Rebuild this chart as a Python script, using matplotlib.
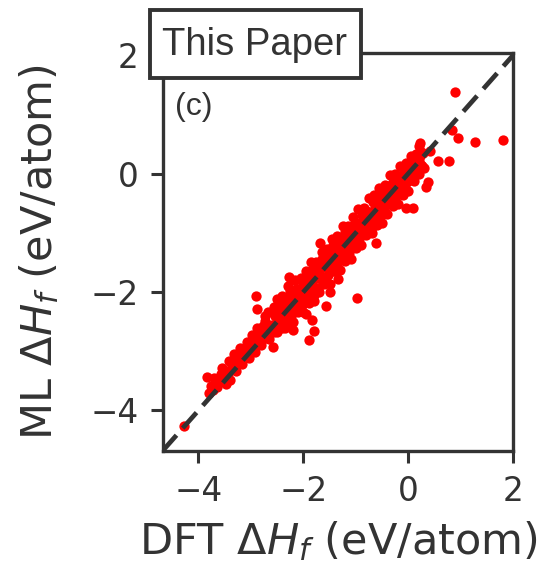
import matplotlib
matplotlib.use("Agg")
import matplotlib.pyplot as plt
from matplotlib.patches import Rectangle
import numpy as np

# DFT vs ML formation enthalpies (eV/atom)
dft_tail = [-4.27, -3.84, -3.80, -3.76, -3.72, -3.66, -3.61, -3.57, -3.52, -3.47,
            -3.42, -3.39, -3.36, -3.31, -3.27, -3.23, -3.19, -3.14, -3.10, -3.06,
            -3.02, -2.98, -2.95, -2.91, -2.89, -2.90, -2.86, -2.83, -2.79, -2.76,
            -2.73, -2.70, -2.67, -2.63,
            -3.70, -3.64, -3.55, -3.48, -3.44, -3.33, -3.28, -3.21, -3.16, -3.08,
            -3.04, -2.97, -2.93, -2.88, -2.81, -2.74, -2.68, -2.65]
ml_tail = [-4.26, -3.43, -3.70, -3.58, -3.66, -3.52, -3.48, -3.38, -3.47, -3.33,
           -3.17, -3.48, -3.26, -3.12, -3.21, -3.03, -3.10, -2.96, -3.04, -2.90,
           -2.98, -2.84, -2.93, -2.06, -2.28, -2.74, -2.81, -2.64, -2.72, -2.58,
           -2.49, -2.78, -2.55, -2.66,
           -3.45, -3.60, -3.28, -3.56, -3.36, -3.05, -3.34, -2.95, -3.22, -2.84,
           -3.12, -2.72, -3.02, -2.60, -2.90, -2.40, -2.33, -2.80]

dft_band_a = [-2.60, -2.56, -2.52, -2.48, -2.44, -2.40, -2.36, -2.32, -2.28, -2.24,
              -2.20, -2.16, -2.12, -2.08, -2.04, -2.00, -1.96, -1.92, -1.88, -1.84,
              -1.80, -1.76, -1.72, -1.68, -1.64, -1.60, -1.56, -1.52, -1.48, -1.44,
              -1.40, -1.36, -1.32, -1.28, -1.24, -1.20, -1.16, -1.12, -1.08, -1.04,
              -1.00, -0.96, -0.92, -0.88, -0.84, -0.80, -0.76, -0.72, -0.68, -0.64,
              -0.60, -0.56, -0.52, -0.48, -0.44, -0.40, -0.36, -0.32, -0.28, -0.24,
              -0.20, -0.16, -0.12, -0.08, -0.04, 0.00, 0.04, 0.08, 0.12, 0.16,
              0.20, 0.24, 0.28]
ml_band_a = [-2.55, -2.68, -2.34, -2.51, -2.35, -2.61, -2.22, -2.39, -2.06, -2.39,
             -2.19, -2.05, -2.30, -2.02, -2.13, -1.84, -1.98, -1.68, -2.01, -1.76,
             -2.05, -1.73, -1.59, -1.74, -1.45, -1.76, -1.49, -1.53, -1.36, -1.64,
             -1.36, -1.19, -1.42, -1.19, -1.28, -0.99, -1.30, -1.10, -0.93, -1.12,
             -0.90, -1.15, -0.86, -0.70, -0.89, -0.67, -0.88, -0.71, -0.48, -0.81,
             -0.52, -0.59, -0.38, -0.59, -0.39, -0.21, -0.51, -0.29, -0.16, -0.33,
             -0.13, -0.34, -0.02, -0.12, 0.11, -0.12, 0.08, 0.01, 0.21, 0.00,
             0.22, 0.14, 0.34]

dft_band_b = [-2.58, -2.54, -2.50, -2.46, -2.42, -2.38, -2.34, -2.30, -2.26, -2.22,
              -2.18, -2.14, -2.10, -2.06, -2.02, -1.98, -1.94, -1.90, -1.86, -1.82,
              -1.78, -1.74, -1.70, -1.66, -1.62, -1.58, -1.54, -1.50, -1.46, -1.42,
              -1.38, -1.34, -1.30, -1.26, -1.22, -1.18, -1.14, -1.10, -1.06, -1.02,
              -0.98, -0.94, -0.90, -0.86, -0.82, -0.78, -0.74, -0.70, -0.66, -0.62,
              -0.58, -0.54, -0.50, -0.46, -0.42, -0.38, -0.34, -0.30, -0.26, -0.22,
              -0.18, -0.14, -0.10, -0.06, -0.02, 0.02, 0.06, 0.10, 0.14, 0.18,
              0.22, 0.26]
ml_band_b = [-2.62, -2.41, -2.67, -2.39, -2.22, -2.48, -2.32, -2.53, -2.11, -2.17,
             -2.32, -1.95, -2.16, -1.96, -2.22, -1.95, -1.80, -1.99, -1.65, -1.98,
             -1.72, -1.76, -1.53, -1.78, -1.53, -1.80, -1.42, -1.50, -1.26, -1.50,
             -1.32, -1.49, -1.16, -1.25, -1.33, -1.02, -1.19, -1.02, -1.24, -0.83,
             -1.00, -0.83, -1.04, -0.82, -0.66, -0.85, -0.65, -0.90, -0.63, -0.49,
             -0.67, -0.48, -0.32, -0.59, -0.41, -0.28, -0.40, -0.15, -0.45, -0.18,
             -0.06, -0.22, -0.08, -0.21, 0.07, -0.02, 0.19, -0.01, 0.17, 0.12,
             0.30, 0.13]

dft_core = [-2.40, -2.32, -2.24, -2.16, -2.08, -2.00, -1.92, -1.84, -1.76, -1.68,
            -1.60, -1.52, -1.44, -1.36, -1.28, -1.20, -1.12, -1.04, -0.96, -0.88,
            -0.80, -0.72, -0.64, -0.56, -0.48, -0.40, -0.32, -0.24, -0.16, -0.08,
            0.00]
ml_core = [-2.38, -2.37, -2.16, -2.17, -2.04, -2.07, -1.91, -1.87, -1.70, -1.72,
           -1.57, -1.58, -1.39, -1.38, -1.21, -1.25, -1.09, -1.07, -0.90, -0.94,
           -0.78, -0.76, -0.59, -0.58, -0.41, -0.45, -0.30, -0.27, -0.12, -0.10,
           0.05]

dft_wide = [-2.55, -2.50, -2.45, -2.40, -2.35, -2.30, -2.25, -2.20, -2.15, -2.10,
            -2.05, -2.00, -1.95, -1.90, -1.85, -1.80, -1.75, -1.70, -1.65, -1.60,
            -1.55, -1.50, -1.45, -1.40, -1.35, -1.30, -1.25, -1.20, -1.15, -1.10,
            -1.05, -1.00, -0.95, -0.90, -0.85, -0.80, -0.75, -0.70, -0.65, -0.60,
            -0.55, -0.50, -0.45, -0.40, -0.35, -0.30, -0.25, -0.20, -0.15, -0.10,
            -0.05, 0.00, 0.05, 0.10, 0.15, 0.20, 0.25]
ml_wide = [-2.25, -2.12, -2.23, -2.07, -2.61, -1.90, -1.98, -2.50, -1.80, -2.34,
           -1.76, -2.33, -1.64, -2.18, -1.49, -2.15, -1.50, -2.00, -1.32, -1.87,
           -1.27, -1.86, -1.11, -1.65, -1.05, -1.62, -0.88, -1.48, -0.89, -1.44,
           -0.73, -1.26, -0.60, -1.20, -0.58, -1.04, -0.42, -1.01, -0.37, -0.87,
           -0.25, -0.83, -0.19, -0.69, -0.03, -0.55, -0.01, -0.51, 0.13, -0.36,
           0.17, -0.30, 0.30, -0.12, 0.33, 0.00, 0.37]

dft_mid = [-2.53, -2.43, -2.33, -2.23, -2.13, -2.03, -1.93, -1.83, -1.73, -1.63,
           -1.53, -1.43, -1.33, -1.23, -1.13, -1.03, -0.93, -0.83, -0.73, -0.63,
           -0.53, -0.43, -0.33, -0.23, -0.13, -0.03, 0.07, 0.17]
ml_mid = [-2.38, -2.53, -2.14, -2.40, -2.01, -1.82, -2.09, -1.65, -1.93, -1.48,
          -1.71, -1.21, -1.47, -1.06, -1.34, -0.89, -1.10, -0.62, -0.88, -0.45,
          -0.72, -0.29, -0.49, -0.03, -0.27, 0.13, -0.05, 0.30]

dft_outliers = [-2.57, -2.28, -2.19, -1.94, -1.89, -1.84, -1.80, -1.68, -1.56, -1.49,
                -1.34, -0.98, -0.61, -0.04, 0.09, 0.33, 0.37, 0.20, 0.22, 0.42,
                0.57, 0.78, 0.83, 0.89, 0.95, 1.28, 1.80, 0.30, 0.18]
ml_outliers = [-2.92, -1.74, -2.64, -2.37, -2.81, -2.48, -2.66, -1.17, -2.23, -2.00,
               -1.78, -2.10, -1.17, -0.58, -0.58, -0.22, -0.15, 0.46, 0.52, 0.38,
               0.21, 0.22, 0.73, 1.38, 0.60, 0.54, 0.56, 0.10, 0.30]

dft = np.concatenate([dft_tail, dft_band_a, dft_band_b, dft_core, dft_wide,
                      dft_mid, dft_outliers])
ml = np.concatenate([ml_tail, ml_band_a, ml_band_b, ml_core, ml_wide,
                     ml_mid, ml_outliers])

x_lim = (-4.68, 2.0)
y_lim = (-4.68, 2.03)
ticks = [-4, -2, 0, 2]

dark = "#333333"
plt.rcParams["font.family"] = ["DejaVu Sans"]

fig = plt.figure(figsize=(5.46, 5.67), dpi=100)
ax = fig.add_axes([0.298, 0.205, 0.642, 0.701])

ax.scatter(dft, ml, s=55, color="#ff0000", linewidths=0, zorder=2)
ax.plot(x_lim, x_lim, color=dark, linewidth=3.4, dashes=(4.4, 2.0), zorder=3)

ax.set_xlim(*x_lim)
ax.set_ylim(*y_lim)
ax.set_xticks(ticks)
ax.set_yticks(ticks)
ax.set_xticklabels([f"{t}".replace("-", "\u2212") for t in ticks])
ax.set_yticklabels([f"{t}".replace("-", "\u2212") for t in ticks])

for side in ["top", "right", "bottom", "left"]:
    ax.spines[side].set_color(dark)
    ax.spines[side].set_linewidth(2.4)
ax.tick_params(direction="out", length=8.5, width=2.2, color=dark,
               labelcolor=dark, labelsize=23.5, pad=9)

ax.set_xlabel(r"DFT $\Delta H_f$ (eV/atom)", fontsize=31, color=dark, labelpad=8)
ax.set_ylabel(r"ML $\Delta H_f$ (eV/atom)", fontsize=31, color=dark, labelpad=21)

ax.text(0.034, 0.866, "(c)", transform=ax.transAxes, ha="left", va="center",
        fontsize=23, color=dark, family="Liberation Sans")

# framed "This Paper" tag sitting over the top-left corner
fig.patches.append(Rectangle((0.2747, 0.8624), 0.3864, 0.1199,
                             transform=fig.transFigure, facecolor="white",
                             edgecolor=dark, linewidth=2.8, zorder=5))
fig.text(0.467, 0.903, "This Paper", ha="center", va="baseline",
         fontsize=27.5, color=dark, family="Liberation Sans", zorder=6)

fig.savefig("out.png", dpi=100)
